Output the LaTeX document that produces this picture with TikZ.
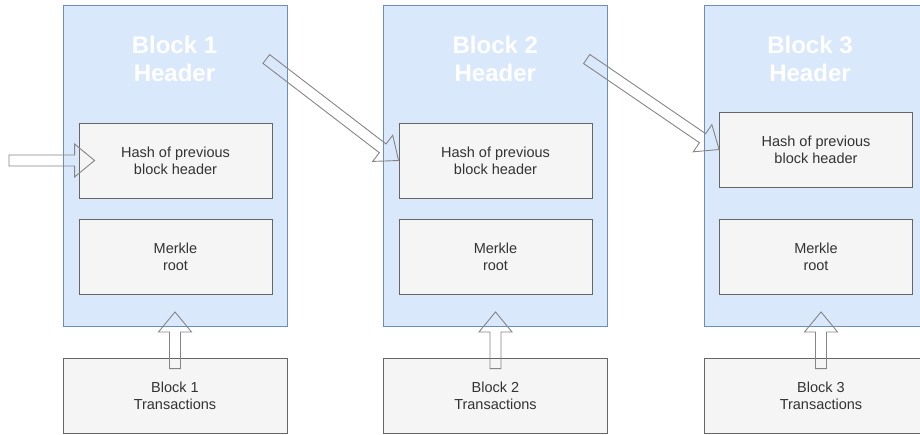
\documentclass[tikz,border=0pt]{standalone}
\usepackage{fontspec}
\setmainfont{Liberation Sans}
\usepackage{xcolor}
\usetikzlibrary{calc}

\definecolor{hdrfill}{HTML}{DAE8FC}
\definecolor{hdrline}{HTML}{6C8EBF}
\definecolor{boxfill}{HTML}{F5F5F5}
\definecolor{boxline}{HTML}{666666}
\definecolor{boxtext}{HTML}{333333}
\definecolor{arrowline}{HTML}{858585}

\tikzset{
  hdr/.style={draw=hdrline, fill=hdrfill, line width=0.9pt, minimum width=224pt, minimum height=321pt, inner sep=0pt},
  hdrtitle/.style={text=white, align=center, inner sep=0pt, font=\fontsize{24}{28.5}\selectfont\bfseries},
  field/.style={draw=boxline, fill=boxfill, line width=0.9pt, minimum width=193pt, minimum height=75pt, inner sep=0pt, align=center, text=boxtext, font=\fontsize{14.5}{16.8}\selectfont},
  txbox/.style={field, minimum width=224pt},
  flexline/.style={draw=arrowline, line width=0.9pt, line join=miter}
}

% hollow block arrow from #1 to #2
\newcommand{\flexarrow}[2]{%
  \coordinate (fa-h) at ($(#2)!20pt!(#1)$);
  \draw[flexline] ($(#1)!5.5pt!90:(#2)$) -- ($(fa-h)!5.5pt!90:(#2)$) -- ($(fa-h)!16.5pt!90:(#2)$) -- (#2)
    -- ($(fa-h)!16.5pt!-90:(#2)$) -- ($(fa-h)!5.5pt!-90:(#2)$) -- ($(#1)!5.5pt!-90:(#2)$) -- cycle;
}

\begin{document}
\begin{tikzpicture}[x=1pt, y=-1pt]
  \useasboundingbox (0,0) rectangle (920,434);

  % headers
  \node[hdr] (hdr1) at (175,165.5) {};
  \node[hdr] (hdr2) at (495.5,165.5) {};
  \node[hdr] (hdr3) at (816,165.5) {};

  \node[hdrtitle] (ttl1) at (174.5,58.7) {Block 1\\Header};
  \node[hdrtitle] (ttl2) at (495.3,58.7) {Block 2\\Header};
  \node[hdrtitle] (ttl3) at (810,58.7) {Block 3\\Header};

  % fields
  \node[field] (hash1) at (175.5,160.5) {Hash of previous\\block header};
  \node[field] (hash2) at (495.5,160.5) {Hash of previous\\block header};
  \node[field] (hash3) at (816,149.5) {Hash of previous\\block header};

  \node[field] (root1) at (175.5,256.5) {Merkle\\root};
  \node[field] (root2) at (495.5,256.5) {Merkle\\root};
  \node[field] (root3) at (816,256.5) {Merkle\\root};

  % transactions
  \node[txbox] (tx1) at (175,395.5) {Block 1\\Transactions};
  \node[txbox] (tx2) at (495.5,395.5) {Block 2\\Transactions};
  \node[txbox, minimum width=234pt] (tx3) at (821,395.5) {Block 3\\Transactions};

  % arrow ends
  \coordinate (in) at (9,160.5);
  \coordinate (in tip) at ([xshift=16pt]hash1.west);
  \coordinate (out1) at (266.3,59);
  \coordinate (out2) at (586.7,59);

  \flexarrow{in}{in tip}
  \flexarrow{out1}{hash2.west}
  \flexarrow{out2}{hash3.west}

  \coordinate (up1) at ([yshift=-11pt]tx1.north);
  \coordinate (up2) at ([yshift=-11pt]tx2.north);
  \coordinate (up3) at ([yshift=-11pt]tx3.north);
  \coordinate (upt1) at ([yshift=14.5pt]up1 |- hdr1.south);
  \coordinate (upt2) at ([yshift=14.5pt]up2 |- hdr2.south);
  \coordinate (upt3) at ([yshift=14.5pt]up3 |- hdr3.south);

  \flexarrow{up1}{upt1}
  \flexarrow{up2}{upt2}
  \flexarrow{up3}{upt3}
\end{tikzpicture}
\end{document}
